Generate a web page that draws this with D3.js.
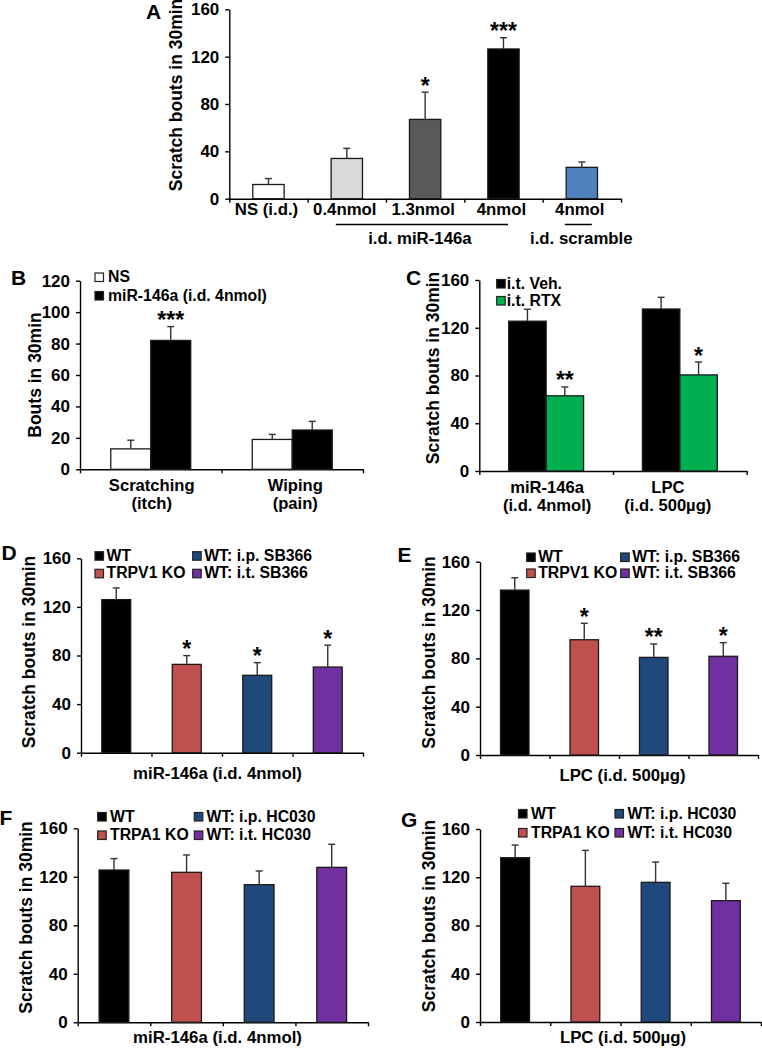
<!DOCTYPE html>
<html><head><meta charset="utf-8">
<script src="https://cdn.jsdelivr.net/npm/d3@7"></script>
<style>body{margin:0;background:#fff}svg{display:block}</style>
</head><body><svg id="fig" width="762" height="1050"></svg>
<script>
// ================= DATA =================
// Panel A
const labelsA = ["NS (i.d.)", "0.4nmol", "1.3nmol", "4nmol", "4nmol"];
const valuesA = [12, 34, 67, 126.5, 26.5];
const errorsA = [5, 8.5, 23, 9.5, 4.5];
const sigA = ["", "", "*", "***", ""];
const coloursA = ["#ffffff", "#d9d9d9", "#595959", "#000000", "#4f81bd"];
const groupLabelsA = ["i.d. miR-146a", "i.d. scramble"];
const groupSpansA = [[1, 3], [4, 4]];

// Panel B
const groupsB = [["Scratching", "(itch)"], ["Wiping", "(pain)"]];
const seriesB = ["NS", "miR-146a (i.d. 4nmol)"];
const coloursB = ["#ffffff", "#000000"];
const nsB = [13, 19];
const nsErrB = [5.5, 3.2];
const mirB = [82, 25];
const mirErrB = [8.8, 5.5];
const sigB = [["", ""], ["***", ""]];

// Panel C
const groupsC = [["miR-146a", "(i.d. 4nmol)"], ["LPC", "(i.d. 500µg)"]];
const seriesC = ["i.t. Veh.", "i.t. RTX"];
const coloursC = ["#000000", "#00b050"];
const vehC = [125.5, 135.7];
const vehErrC = [10, 9.8];
const rtxC = [63, 80.5];
const rtxErrC = [7.4, 10.8];
const sigC = [["", ""], ["**", "*"]];

// Panels D-G
const seriesDE = ["WT", "TRPV1 KO", "WT: i.p. SB366", "WT: i.t. SB366"];
const seriesFG = ["WT", "TRPA1 KO", "WT: i.p. HC030", "WT: i.t. HC030"];
const coloursDG = ["#000000", "#c0504d", "#1f497d", "#7030a0"];
const valuesD = [126, 72.7, 63.7, 70.5];
const errorsD = [9.6, 7.2, 10.4, 18];
const sigD = ["", "*", "*", "*"];
const valuesE = [136.5, 95.4, 80.8, 81.7];
const errorsE = [10.2, 13.6, 11.1, 11.3];
const sigE = ["", "*", "**", "*"];
const valuesF = [125.6, 123.7, 113.5, 127.8];
const errorsF = [9.4, 14.3, 11.3, 19];
const sigF = ["", "", "", ""];
const valuesG = [136.2, 112.5, 115.8, 100.6];
const errorsG = [10.5, 29.8, 16.8, 14.4];
const sigG = ["", "", "", ""];
const xTitleMiR = "miR-146a (i.d. 4nmol)";
const xTitleLPC = "LPC (i.d. 500µg)";

const ticks160 = [0, 40, 80, 120, 160];
const ticks120 = [0, 20, 40, 60, 80, 100, 120];
const yTitleScratch = "Scratch bouts in 30min";
const yTitleBouts = "Bouts in 30min";

// ================= DRAWING =================
const FONT = '"Liberation Sans", Arial, Helvetica, sans-serif';
const svg = d3.select("#fig");

function txt(g, x, y, s, size, anchor) {
  return g.append("text").attr("x", x).attr("y", y).text(s)
    .attr("font-family", FONT).attr("font-weight", "bold")
    .attr("font-size", size).attr("text-anchor", anchor || "start").attr("fill", "#000");
}

function frame(p) {
  const g = svg.append("g");
  const y = d3.scaleLinear().domain([0, p.ymax]).range([p.yBot, p.yTop]);
  const x = d3.scaleBand().domain(d3.range(p.n)).range([p.x0, p.x1]);
  const ya = g.append("g").attr("transform", `translate(${p.x0},0)`)
    .call(d3.axisLeft(y).tickValues(p.ticks).tickSize(4).tickSizeOuter(0).tickPadding(6));
  ya.select(".domain").attr("stroke", "#000").attr("stroke-width", 1.4);
  ya.selectAll(".tick line").attr("stroke", "#000").attr("stroke-width", 1.4);
  ya.selectAll(".tick text").attr("font-size", 17).attr("font-weight", "bold")
    .attr("font-family", FONT).attr("fill", "#000");
  const bx = d3.scaleLinear().domain([0, p.n]).range([p.x0, p.x1]);
  const xa = g.append("g").attr("transform", `translate(0,${p.yBot})`)
    .call(d3.axisBottom(bx).tickValues(d3.range(p.n + 1)).tickFormat("").tickSize(4).tickSizeOuter(0));
  xa.select(".domain").attr("stroke", "#000").attr("stroke-width", 1.4);
  xa.selectAll(".tick line").attr("stroke", "#000").attr("stroke-width", 1.4);
  // y title
  g.append("text")
    .attr("transform", `translate(${p.x0 - p.titleDx},${p.titleCy}) rotate(-90)`)
    .attr("text-anchor", "middle").attr("font-family", FONT).attr("font-weight", "bold")
    .attr("font-size", 17.5).text(p.title);
  // panel letter
  txt(g, p.letter[0], p.letter[1], p.letter[2], 21);
  return { g, x, y };
}

function bars(g, y, items) {
  const gb = g.append("g");
  gb.selectAll("rect").data(items).join("rect")
    .attr("x", d => d.left).attr("width", d => d.width)
    .attr("y", d => y(d.v)).attr("height", d => y(0) - y(d.v))
    .attr("fill", d => d.fill).attr("stroke", "#1a1a1a").attr("stroke-width", 1.3);
  const ge = g.append("g").attr("stroke", "#333").attr("stroke-width", 1.4);
  ge.selectAll("line.v").data(items).join("line").attr("class", "v")
    .attr("x1", d => d.left + d.width / 2).attr("x2", d => d.left + d.width / 2)
    .attr("y1", d => y(d.v)).attr("y2", d => y(d.v + d.e));
  ge.selectAll("line.c").data(items).join("line").attr("class", "c")
    .attr("x1", d => d.left + d.width / 2 - 3.5).attr("x2", d => d.left + d.width / 2 + 3.5)
    .attr("y1", d => y(d.v + d.e)).attr("y2", d => y(d.v + d.e));
  g.append("g").selectAll("text").data(items.filter(d => d.sig)).join("text")
    .attr("x", d => d.left + d.width / 2).attr("y", d => y(d.v + d.e) + 1.5)
    .attr("text-anchor", "middle").attr("font-family", FONT).attr("font-weight", "bold")
    .attr("font-size", 23).text(d => d.sig);
}

function legend(g, names, colours, cols, rows, gap, size) {
  names.forEach((nm, i) => {
    const cx = cols[Math.floor(i / rows.length)], ry = rows[i % rows.length];
    g.append("rect").attr("x", cx).attr("y", ry).attr("width", 8.5).attr("height", 8.5)
      .attr("fill", colours[i]).attr("stroke", "#222").attr("stroke-width", 1.2);
    txt(g, cx + gap, ry + 9, nm, size || 15.8);
  });
}

function simplePanel(p, vals, errs, sigs) {
  const f = frame(Object.assign({ n: vals.length }, p));
  const bw = f.x.bandwidth(), w = bw * p.barFrac;
  bars(f.g, f.y, vals.map((v, i) => ({
    left: f.x(i) + (bw - w) / 2, width: w, v, e: errs[i],
    fill: (p.colours || coloursDG)[i], sig: sigs[i]
  })));
  return f;
}

function groupedPanel(p, s1, e1, s2, e2, sigs, colours, groups) {
  const f = frame(Object.assign({ n: groups.length }, p));
  const bw = f.x.bandwidth();
  const sub = d3.scaleBand().domain([0, 1]).range([0, bw * p.groupFrac]);
  const items = [];
  [[s1, e1], [s2, e2]].forEach(([s, e], k) => s.forEach((v, i) => items.push({
    left: f.x(i) + (bw - bw * p.groupFrac) / 2 + sub(k), width: sub.bandwidth(),
    v, e: e[i], fill: colours[k], sig: sigs[k][i]
  })));
  bars(f.g, f.y, items);
  groups.forEach((lines, i) => lines.forEach((ln, j) =>
    txt(f.g, f.x(i) + bw / 2 + (p.labelDx ? p.labelDx[i] : 0), p.labelY[j], ln, 16.6, "middle")));
  return f;
}

// ---- Panel A ----
(function () {
  const p = { x0: 229.3, x1: 621, yTop: 9.3, yBot: 198.7, ymax: 160, ticks: ticks160,
    title: yTitleScratch, titleDx: 47, titleCy: 95, letter: [146, 18.5, "A"],
    barFrac: 0.4, colours: coloursA };
  const f = simplePanel(p, valuesA, errorsA, sigA);
  const bw = f.x.bandwidth();
  labelsA.forEach((l, i) => txt(f.g, f.x(i) + bw / 2 - 2, 215, l, 16.8, "middle"));
  const lineDx = [[-11, 4.5], [-17, 10]];
  groupSpansA.forEach(([a, b], k) => {
    const xa = f.x(a) + bw / 2 + lineDx[k][0], xb = f.x(b) + bw / 2 + lineDx[k][1];
    f.g.append("line").attr("x1", xa).attr("x2", xb).attr("y1", 224.5).attr("y2", 224.5)
      .attr("stroke", "#000").attr("stroke-width", 1.5);
    txt(f.g, (xa + xb) / 2 + (k ? 3 : -2), 244, groupLabelsA[k], 16.8, "middle");
  });
})();

// ---- Panel B ----
(function () {
  const p = { x0: 80, x1: 363, yTop: 280.7, yBot: 469.3, ymax: 120, ticks: ticks120,
    title: yTitleBouts, titleDx: 39.5, titleCy: 375, letter: [11, 285, "B"],
    groupFrac: 0.565, labelY: [490.5, 508.5], labelDx: [1, 3] };
  const f = groupedPanel(p, nsB, nsErrB, mirB, mirErrB, sigB, coloursB, groupsB);
  legend(f.g, seriesB, coloursB, [95], [273, 291.5], 13);
})();

// ---- Panel C ----
(function () {
  const p = { x0: 479.3, x1: 746.7, yTop: 280, yBot: 471, ymax: 160, ticks: ticks160,
    title: yTitleScratch, titleDx: 40, titleCy: 368, letter: [406, 285, "C"],
    groupFrac: 0.56, labelY: [493, 511], labelDx: [1, -12] };
  const f = groupedPanel(p, vehC, vehErrC, rtxC, rtxErrC, sigC, coloursC, groupsC);
  legend(f.g, seriesC, coloursC, [496.7], [279.5, 296.5], 10);
})();

// ---- Panels D-G ----
function dgPanel(p, vals, errs, sigs, names, xTitle) {
  const f = simplePanel(Object.assign({ barFrac: 0.41, colours: coloursDG }, p), vals, errs, sigs);
  legend(f.g, names, coloursDG, p.legCols, p.legRows, p.legGap);
  txt(f.g, p.xTitle[0], p.xTitle[1], xTitle, 16.8, "middle");
}
dgPanel({ x0: 81, x1: 363, yTop: 558.3, yBot: 752.7, ymax: 160, ticks: ticks160,
  title: yTitleScratch, titleDx: 46, titleCy: 652, letter: [1.5, 560, "D"],
  legCols: [95, 192.7], legRows: [551.7, 569.3], legGap: 11.5, xTitle: [217.5, 779] },
  valuesD, errorsD, sigD, seriesDE, xTitleMiR);
dgPanel({ x0: 480, x1: 758, yTop: 561.7, yBot: 755, ymax: 160, ticks: ticks160,
  title: yTitleScratch, titleDx: 45, titleCy: 652.5, letter: [397.5, 561.7, "E"],
  legCols: [526.7, 620.7], legRows: [553, 569], legGap: 11.5, xTitle: [622.5, 780.5] },
  valuesE, errorsE, sigE, seriesDE, xTitleLPC);
dgPanel({ x0: 77.7, x1: 368, yTop: 828.3, yBot: 1022.3, ymax: 160, ticks: ticks160,
  title: yTitleScratch, titleDx: 46, titleCy: 917.5, letter: [-0.5, 825, "F"],
  legCols: [97.7, 194.3], legRows: [812.5, 831], legGap: 12.3, xTitle: [217.5, 1043] },
  valuesF, errorsF, sigF, seriesFG, xTitleMiR);
dgPanel({ x0: 480, x1: 761, yTop: 829, yBot: 1022, ymax: 160, ticks: ticks160,
  title: yTitleScratch, titleDx: 45, titleCy: 916, letter: [401, 826.7, "G"],
  legCols: [518.5, 615], legRows: [809.5, 828.5], legGap: 12.5, xTitle: [623, 1043] },
  valuesG, errorsG, sigG, seriesFG, xTitleLPC);
</script></body></html>
